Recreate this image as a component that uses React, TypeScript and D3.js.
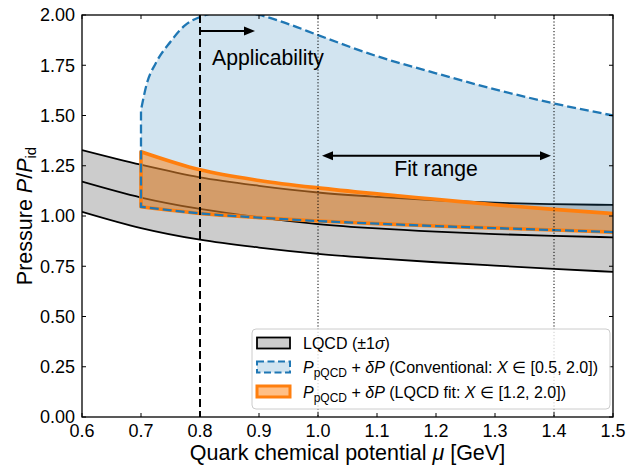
import React from "react";
import * as d3 from "d3";

// ---------- data ----------
const lqcdMu = [0.6, 0.7, 0.8, 0.9, 1.0, 1.1, 1.2, 1.3, 1.4, 1.5];
const lqcdUpper = [1.328, 1.255, 1.192, 1.15, 1.117, 1.095, 1.078, 1.066, 1.059, 1.055];
const lqcdMid = [1.171, 1.092, 1.035, 0.993, 0.96, 0.938, 0.922, 0.91, 0.901, 0.894];
const lqcdLower = [1.021, 0.94, 0.882, 0.843, 0.812, 0.789, 0.77, 0.753, 0.737, 0.722];

const convLowerMu = [0.7, 0.8, 0.9, 1.0, 1.1, 1.2, 1.3, 1.4, 1.5];
const convLower = [1.046, 1.013, 0.992, 0.975, 0.962, 0.95, 0.94, 0.93, 0.92];
const convUpperMu = [0.7, 0.71, 0.725, 0.75, 0.775, 0.8, 0.85, 0.9, 0.95, 1.0, 1.1, 1.2, 1.3, 1.4, 1.5];
const convUpper = [1.527, 1.66, 1.76, 1.867, 1.95, 1.99, 2.02, 2.0, 1.955, 1.9, 1.795, 1.71, 1.63, 1.56, 1.5];

const fitMu = [0.7, 0.8, 0.9, 1.0, 1.1, 1.2, 1.3, 1.4, 1.5];
const fitLower = [1.046, 1.013, 0.992, 0.975, 0.962, 0.95, 0.94, 0.93, 0.92];
const fitUpper = [1.32, 1.23, 1.177, 1.14, 1.11, 1.083, 1.056, 1.033, 1.012];

const xTicks = [0.6, 0.7, 0.8, 0.9, 1.0, 1.1, 1.2, 1.3, 1.4, 1.5];
const yTicks = [0, 0.25, 0.5, 0.75, 1.0, 1.25, 1.5, 1.75, 2.0];
const applicabilityMu = 0.8;
const fitRangeMu = [1.0, 1.4];

// ---------- layout ----------
const W = 639;
const H = 466;
const L = 82, R = 613, T = 15, B = 417;
const FONT = "'Liberation Sans', Arial, Helvetica, sans-serif";

const BLUE = "#1f77b4";
const ORANGE = "#ff7f0e";

export default function App() {
  const x = d3.scaleLinear().domain([0.6, 1.5]).range([L, R]);
  const y = d3.scaleLinear().domain([0, 2]).range([B, T]);

  type P = [number, number];
  const zip = (a: number[], b: number[]): P[] => a.map((v, i) => [v, b[i]]);
  const line = d3
    .line<P>()
    .x((d) => x(d[0]))
    .y((d) => y(d[1]))
    .curve(d3.curveMonotoneX);

  const band = d3
    .area<number>()
    .x((_, i) => x(lqcdMu[i]))
    .y0((_, i) => y(lqcdLower[i]))
    .y1((_, i) => y(lqcdUpper[i]))
    .curve(d3.curveMonotoneX);

  const edgePath = (lowerPts: P[], upperPts: P[]) => {
    const lowRev = line(lowerPts.slice().reverse()) as string;
    const up = line(upperPts) as string;
    return lowRev + "L" + up.slice(1);
  };

  const convEdge = edgePath(zip(convLowerMu, convLower), zip(convUpperMu, convUpper));
  const fitEdge = edgePath(zip(fitMu, fitLower), zip(fitMu, fitUpper));

  const arrowHead = (tx: number, ty: number, dir: number) => {
    const len = 11, hw = 4.5;
    return `M${tx},${ty}L${tx - dir * len},${ty - hw}L${tx - dir * len},${ty + hw}Z`;
  };

  const appY = y(1.92);
  const appX0 = x(applicabilityMu);
  const appX1 = x(0.9) - 4;
  const fitY = y(1.3);
  const fitX0 = x(fitRangeMu[0]) + 4;
  const fitX1 = x(fitRangeMu[1]) - 3;

  const tickLen = 4;

  return (
    <svg
      width={W}
      height={H}
      style={{ position: "absolute", left: 0, top: 0, display: "block", background: "#fff" }}
      fontFamily={FONT}
    >
      <defs>
        <clipPath id="plotClip">
          <rect x={L} y={T} width={R - L} height={B - T} />
        </clipPath>
      </defs>

      <g clipPath="url(#plotClip)">
        <path d={band(lqcdMu) as string} fill="#808080" fillOpacity={0.4} stroke="none" />
        <path d={line(zip(lqcdMu, lqcdUpper)) as string} fill="none" stroke="#000" strokeWidth={1.8} />
        <path d={line(zip(lqcdMu, lqcdMid)) as string} fill="none" stroke="#000" strokeWidth={1.8} />
        <path d={line(zip(lqcdMu, lqcdLower)) as string} fill="none" stroke="#000" strokeWidth={1.8} />

        <path d={convEdge + "Z"} fill={BLUE} fillOpacity={0.2} stroke="none" />
        <path d={fitEdge + "Z"} fill={ORANGE} fillOpacity={0.5} stroke="none" />
        <path d={fitEdge} fill="none" stroke={ORANGE} strokeWidth={3.6} strokeLinejoin="round" />
        <path d={convEdge} fill="none" stroke={BLUE} strokeWidth={2.3} strokeDasharray="9,4" />

        <line x1={x(applicabilityMu)} x2={x(applicabilityMu)} y1={T} y2={B} stroke="#000" strokeWidth={2} strokeDasharray="8,4" />
        {fitRangeMu.map((m) => (
          <line key={m} x1={x(m)} x2={x(m)} y1={T} y2={B} stroke="#000" strokeWidth={1} strokeDasharray="1.2,2" />
        ))}
      </g>

      <line x1={appX0} x2={appX1 - 10} y1={appY} y2={appY} stroke="#000" strokeWidth={2} />
      <path d={arrowHead(appX1, appY, 1)} fill="#000" />
      <text x={212} y={65} fontSize={21.2} fill="#000">Applicability</text>

      <line x1={fitX0 + 10} x2={fitX1 - 10} y1={fitY} y2={fitY} stroke="#000" strokeWidth={2} />
      <path d={arrowHead(fitX0, fitY, -1)} fill="#000" />
      <path d={arrowHead(fitX1, fitY, 1)} fill="#000" />
      <text x={x(1.2)} y={176} fontSize={21.2} textAnchor="middle" fill="#000">Fit range</text>

      <rect x={L} y={T} width={R - L} height={B - T} fill="none" stroke="#000" strokeWidth={1.3} />

      {xTicks.map((t) => (
        <g key={"x" + t}>
          <line x1={x(t)} x2={x(t)} y1={B} y2={B - tickLen} stroke="#000" strokeWidth={1} />
          <line x1={x(t)} x2={x(t)} y1={T} y2={T + tickLen} stroke="#000" strokeWidth={1} />
          <text x={x(t)} y={437} fontSize={18} textAnchor="middle" fill="#000">
            {d3.format(".1f")(t)}
          </text>
        </g>
      ))}
      {yTicks.map((t) => (
        <g key={"y" + t}>
          <line x1={L} x2={L + tickLen} y1={y(t)} y2={y(t)} stroke="#000" strokeWidth={1} />
          <line x1={R} x2={R - tickLen} y1={y(t)} y2={y(t)} stroke="#000" strokeWidth={1} />
          <text x={75} y={y(t)} dy="0.36em" fontSize={18} textAnchor="end" fill="#000">
            {d3.format(".2f")(t)}
          </text>
        </g>
      ))}

      <text x={(L + R) / 2} y={460} fontSize={21.5} textAnchor="middle" fill="#000">
        Quark chemical potential <tspan fontStyle="italic">μ</tspan> [GeV]
      </text>
      <text transform={`translate(32,${(T + B) / 2}) rotate(-90)`} fontSize={21.5} textAnchor="middle" fill="#000">
        Pressure <tspan fontStyle="italic">P</tspan>/<tspan fontStyle="italic">P</tspan>
        <tspan fontSize={15} dy={4}>id</tspan>
      </text>

      <g>
        <rect x={252} y={329} width={358} height={80} rx={4} fill="#fff" fillOpacity={0.8} stroke="#cccccc" strokeWidth={1} />
        <rect x={257} y={337.5} width={33} height={11} fill="#808080" fillOpacity={0.4} stroke="#000" strokeWidth={1.8} />
        <text x={303} y={343} dy="0.35em" fontSize={16} fill="#000">
          LQCD (±1<tspan fontStyle="italic">σ</tspan>)
        </text>
        <rect x={257} y={361.5} width={33} height={11} fill={BLUE} fillOpacity={0.2} stroke={BLUE} strokeWidth={2} strokeDasharray="7,3.5" />
        <text x={303} y={367} dy="0.35em" fontSize={16} fill="#000">
          <tspan fontStyle="italic">P</tspan>
          <tspan fontSize={12} dy={4}>pQCD</tspan>
          <tspan dy={-4}> + </tspan>
          <tspan fontStyle="italic">δP</tspan>
          <tspan> (Conventional: </tspan>
          <tspan fontStyle="italic">X</tspan>
          <tspan> ∈ [0.5, 2.0])</tspan>
        </text>
        <rect x={257} y={386} width={33} height={11} fill={ORANGE} fillOpacity={0.5} stroke={ORANGE} strokeWidth={3} />
        <text x={303} y={392} dy="0.35em" fontSize={16} fill="#000">
          <tspan fontStyle="italic">P</tspan>
          <tspan fontSize={12} dy={4}>pQCD</tspan>
          <tspan dy={-4}> + </tspan>
          <tspan fontStyle="italic">δP</tspan>
          <tspan> (LQCD fit: </tspan>
          <tspan fontStyle="italic">X</tspan>
          <tspan> ∈ [1.2, 2.0])</tspan>
        </text>
      </g>
    </svg>
  );
}
